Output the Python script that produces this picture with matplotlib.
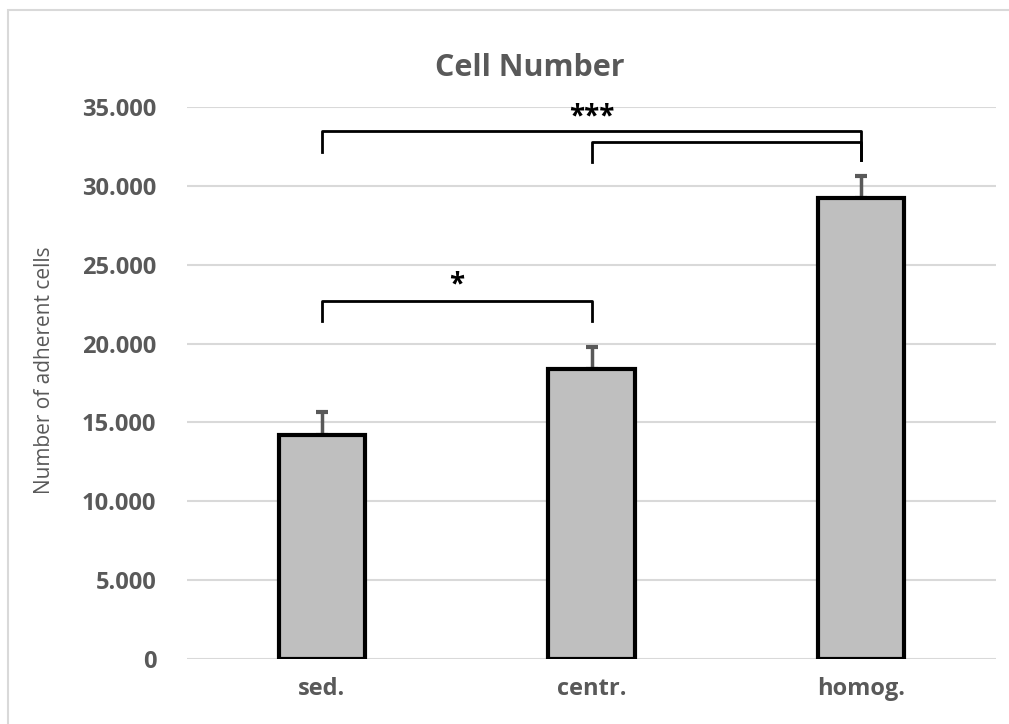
import matplotlib.pyplot as plt
from matplotlib.patches import Rectangle

# data
groups = ["sed.", "centr.", "homog."]
cell_means = [14200, 18370, 29210]
cell_errs = [1480, 1430, 1410]
yticks = [0, 5000, 10000, 15000, 20000, 25000, 30000, 35000]
ytick_labels = ["0", "5.000", "10.000", "15.000", "20.000", "25.000", "30.000", "35.000"]

# significance brackets: (left idx, right idx, bar height, left leg end, right leg end)
brackets = [
    (0, 2, 33480, 32140, 31640),
    (1, 2, 32760, 31530, 31640),
    (0, 1, 22720, 21450, 21450),
]
stars = [(1, 34400, "***"), (0.5, 23700, "*")]

plt.rcParams['font.family'] = ['Open Sans', 'DejaVu Sans']
grey = '#595959'

fig = plt.figure(figsize=(10.09, 7.24), dpi=100)
ax = fig.add_axes([187/1009, 1 - 659/724, (996-187)/1009, (659-107)/724])

x = list(range(len(groups)))
ax.bar(x, cell_means, width=0.32, color='#bfbfbf', edgecolor='black', linewidth=3, zorder=3)
ax.errorbar(x, cell_means, yerr=[[0]*3, cell_errs], fmt='none', ecolor=grey,
            elinewidth=2.5, capsize=4, capthick=3, zorder=2)

for l, r, h, yl, yr in brackets:
    ax.plot([l, l, r, r], [yl, h, h, yr], color='black', lw=2, zorder=4, clip_on=False)
for xs, ys, s in stars:
    ax.text(xs, ys, s, ha='center', va='center', fontsize=20, fontweight='bold', color='black')

ax.set_xlim(-0.5, 2.5)
ax.set_ylim(0, 35000)
ax.set_yticks(yticks)
ax.set_yticklabels(ytick_labels)
ax.set_xticks(x)
ax.set_xticklabels(groups)
ax.tick_params(axis='y', length=0, pad=22, labelsize=17, labelcolor=grey)
ax.tick_params(axis='x', length=0, pad=13, labelsize=17, labelcolor=grey)
for lab in ax.get_xticklabels() + ax.get_yticklabels():
    lab.set_fontweight('bold')

ax.grid(axis='y', color='#d9d9d9', lw=1.5, zorder=0)
ax.set_axisbelow(True)
for sp in ax.spines.values():
    sp.set_visible(False)

fig.text(530/1009, 1 - 68/724, "Cell Number", ha='center', va='center',
         fontsize=22, fontweight='bold', color=grey)
fig.text(45/1009, 1 - 370/724, "Number of adherent cells", rotation=90,
         ha='center', va='center', fontsize=15, color=grey, fontweight='medium')

# outer chart frame
fig.add_artist(Rectangle((8/1009, -0.1), 1.2, 1.1 - 10/724, transform=fig.transFigure,
                         fill=False, edgecolor='#d9d9d9', lw=1.5))

fig.savefig("out.png", dpi=100)
